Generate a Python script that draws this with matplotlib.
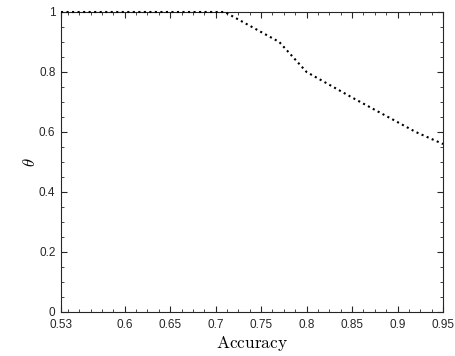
import numpy as np
import matplotlib
matplotlib.use("Agg")
import matplotlib.pyplot as plt
from matplotlib.ticker import MultipleLocator

plt.rcParams['mathtext.fontset'] = 'cm'
plt.rcParams['font.family'] = ['Liberation Sans', 'DejaVu Sans']

# values
accuracy = [0.53, 0.6, 0.65, 0.7, 0.71, 0.77, 0.80, 0.85, 0.90, 0.92, 0.95]
theta = [1.0, 1.0, 1.0, 1.0, 1.0, 0.90, 0.80, 0.715, 0.633, 0.60, 0.56]
xticks = [0.53, 0.6, 0.65, 0.7, 0.75, 0.8, 0.85, 0.9, 0.95]
yticks = [0, 0.2, 0.4, 0.6, 0.8, 1]

fig = plt.figure(figsize=(4.56, 3.56), dpi=100)
ax = fig.add_axes([0.1338, 0.1236, 0.8377, 0.8427])

ax.plot(accuracy, theta, color='black', linestyle=':', linewidth=1.5,
        clip_on=False, zorder=5)

ax.set_xlim(0.53, 0.95)
ax.set_ylim(0, 1)
ax.set_xticks(xticks)
ax.set_xticklabels([f"{v:g}" for v in xticks])
ax.set_yticks(yticks)
ax.set_yticklabels([f"{v:g}" for v in yticks])
ax.xaxis.set_minor_locator(MultipleLocator(0.0125))
ax.yaxis.set_minor_locator(MultipleLocator(0.05))
ax.tick_params(which='both', direction='in', top=True, right=True,
               labelsize=8.5, colors='#262626')
ax.tick_params(which='major', length=4)
ax.tick_params(which='minor', length=2)
ax.tick_params(axis='x', pad=5)
ax.tick_params(axis='y', pad=4)
for s in ax.spines.values():
    s.set_color('#262626')
    s.set_linewidth(0.8)

ax.set_xlabel(r'$\mathrm{Accuracy}$', fontsize=12.5, labelpad=2)
ax.set_ylabel(r'$\theta$', fontsize=12, labelpad=1)

fig.savefig("out.png", dpi=100)
